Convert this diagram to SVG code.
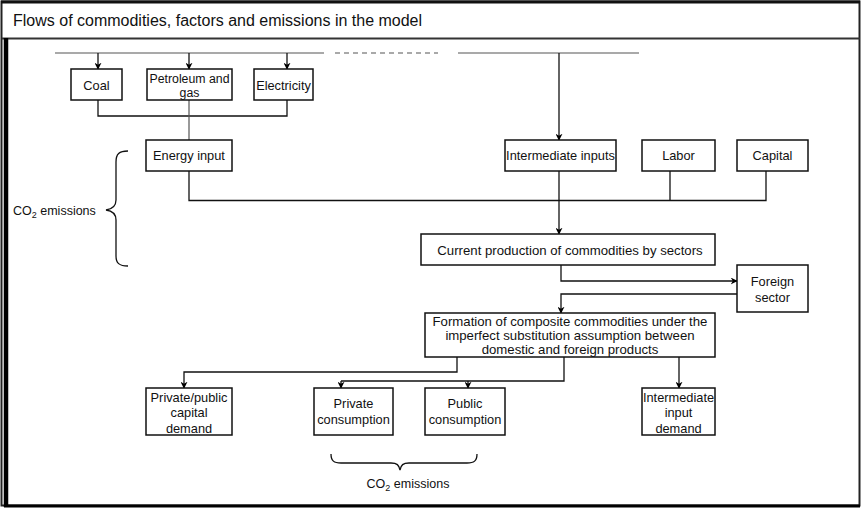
<svg xmlns="http://www.w3.org/2000/svg" width="861" height="508" viewBox="0 0 861 508">
<defs>
<marker id="ah" viewBox="0 0 10 10" refX="9" refY="5" markerWidth="7" markerHeight="7" markerUnits="userSpaceOnUse" orient="auto">
<path d="M0,0 L10,5 L0,10 L3,5 z" fill="#000"/>
</marker>
<style>
.box{fill:#fff;stroke:#111;stroke-width:1.5}
.t{font-family:"Liberation Sans",Arial,sans-serif;font-size:12.8px;fill:#111;text-anchor:middle}
.tl{font-size:13.2px}
.tp{font-size:12.3px}
.c{fill:none;stroke:#111;stroke-width:1.3}
.a{fill:none;stroke:#111;stroke-width:1.3;marker-end:url(#ah)}
.th{fill:none;stroke:#555;stroke-width:1.2}
</style>
</defs>
<rect x="0" y="0" width="861" height="508" fill="#fff"/>
<g id="frame">
<rect x="1.5" y="1.5" width="858" height="504" fill="none" stroke="#222" stroke-width="2"/>
<line x1="1" y1="2" x2="860" y2="2" stroke="#111" stroke-width="3"/>
<line x1="2" y1="38.5" x2="860" y2="38.5" stroke="#333" stroke-width="2"/>
<line x1="6" y1="38" x2="6" y2="507" stroke="#000" stroke-width="4.5"/>
<line x1="4" y1="506" x2="860" y2="506" stroke="#000" stroke-width="3"/>
<text x="13" y="26" font-family="'Liberation Sans',Arial,sans-serif" font-size="16" fill="#111">Flows of commodities, factors and emissions in the model</text>
</g>
<g id="connectors">
<line class="th" x1="55" y1="53" x2="324" y2="53"/>
<line class="th" x1="335" y1="53" x2="438" y2="53" stroke-dasharray="5,4"/>
<line class="th" x1="458" y1="53" x2="639" y2="53"/>
<path class="a" d="M98,53 V69"/>
<path class="a" d="M189,53 V69"/>
<path class="a" d="M287,53 V69"/>
<path class="c" d="M98,100 V116 H287 V100"/>
<path class="th" d="M189,100 V140"/>
<path class="a" d="M559,53 V140"/>
<path class="c" d="M189,171 V200.5 H766 V171"/>
<path class="c" d="M670,171 V200.5"/>
<path class="a" d="M559,171 V234"/>
<path class="a" d="M561,265 V281 H737"/>
<path class="a" d="M737,294 H561 V313"/>
<path class="a" d="M457,357 V372 H184 V388"/>
<path class="c" d="M564,357 V381 H341"/>
<path class="a" d="M341,381 V388"/>
<path class="a" d="M468,381 V388"/>
<path class="a" d="M679,357 V388"/>
</g>
<g id="coal"><rect class="box" x="71" y="69" width="51" height="31"/><text class="t" x="96.5" y="89.5">Coal</text></g>
<g id="petroleum"><rect class="box" x="147" y="69" width="85" height="31"/><text class="t tp" x="189.5" y="82.5">Petroleum and</text><text class="t tp" x="189.5" y="96.5">gas</text></g>
<g id="electricity"><rect class="box" x="254" y="69" width="59" height="31"/><text class="t" x="283.5" y="89.5">Electricity</text></g>
<g id="energy"><rect class="box" x="146" y="140" width="86" height="31"/><text class="t" x="189" y="159.5">Energy input</text></g>
<g id="intermediate"><rect class="box" x="505" y="140" width="111" height="31"/><text class="t" x="560.5" y="159.5">Intermediate inputs</text></g>
<g id="labor"><rect class="box" x="642" y="140" width="73" height="31"/><text class="t" x="678.5" y="159.5">Labor</text></g>
<g id="capital"><rect class="box" x="737" y="140" width="71" height="31"/><text class="t" x="772.5" y="159.5">Capital</text></g>
<g id="production"><rect class="box" x="421" y="234" width="294" height="31"/><text class="t tl" x="570" y="254.5">Current production of commodities by sectors</text></g>
<g id="foreign"><rect class="box" x="737" y="265" width="71" height="47"/><text class="t" x="772.5" y="286">Foreign</text><text class="t" x="772.5" y="302">sector</text></g>
<g id="formation"><rect class="box" x="425" y="313" width="290" height="44"/><text class="t tl" x="570" y="325.5">Formation of composite commodities under the</text><text class="t tl" x="570" y="339.5">imperfect substitution assumption between</text><text class="t tl" x="570" y="353.5">domestic and foreign products</text></g>
<g id="capdemand"><rect class="box" x="146" y="388" width="86" height="47"/><text class="t" x="189" y="401.5">Private/public</text><text class="t" x="189" y="417">capital</text><text class="t" x="189" y="432.5">demand</text></g>
<g id="privcons"><rect class="box" x="314" y="388" width="79" height="47"/><text class="t" x="353.5" y="408">Private</text><text class="t" x="353.5" y="424">consumption</text></g>
<g id="pubcons"><rect class="box" x="425" y="388" width="80" height="47"/><text class="t" x="465" y="408">Public</text><text class="t" x="465" y="424">consumption</text></g>
<g id="intdemand"><rect class="box" x="642" y="388" width="73" height="47"/><text class="t" x="678.5" y="401.5">Intermediate</text><text class="t" x="678.5" y="417">input</text><text class="t" x="678.5" y="432.5">demand</text></g>
<g id="brace-left">
<path class="c" d="M128,151 C119,151 116,154 116,162 V200 C116,206 113,209 106,210 C113,211 116,214 116,220 V256 C116,263 119,266 128,266"/>
<text x="13" y="215" font-family="'Liberation Sans',Arial,sans-serif" font-size="12.5" fill="#111">CO<tspan font-size="9" dy="3">2</tspan><tspan dy="-3"> emissions</tspan></text>
</g>
<g id="brace-bottom">
<path class="c" d="M331,454 C331,461 334,463 341,463 H391 C397,463 399,465 400,470 C401,465 403,463 409,463 H467 C474,463 477,461 477,454"/>
<text x="408" y="488" font-family="'Liberation Sans',Arial,sans-serif" font-size="12.5" fill="#111" text-anchor="middle">CO<tspan font-size="9" dy="3">2</tspan><tspan dy="-3"> emissions</tspan></text>
</g>
</svg>
